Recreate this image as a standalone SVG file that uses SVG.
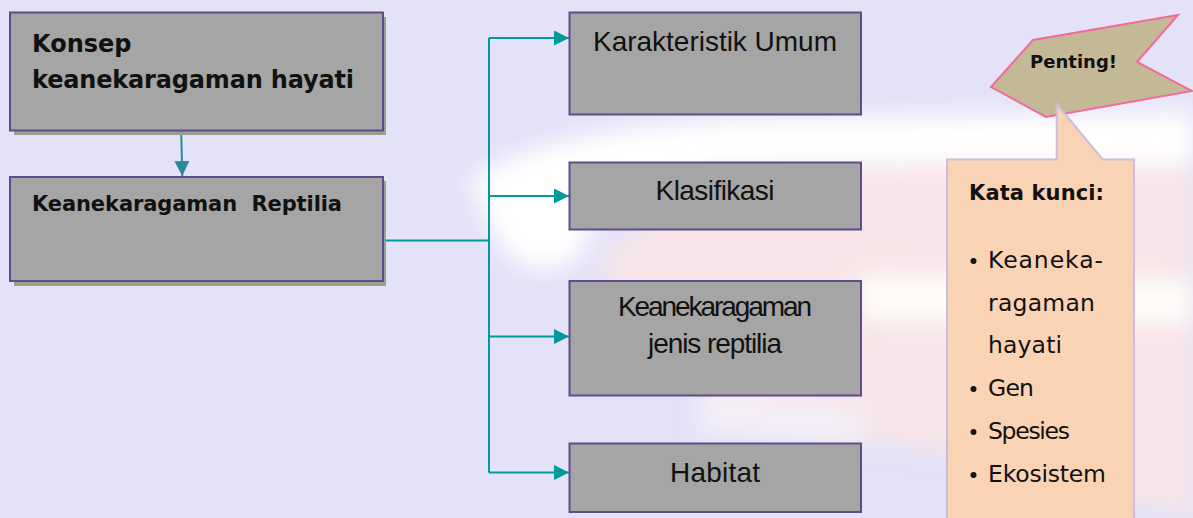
<svg xmlns="http://www.w3.org/2000/svg" width="1193" height="518" viewBox="0 0 1193 518">
  <defs>
    <filter id="soft" x="-20%" y="-20%" width="140%" height="140%">
      <feGaussianBlur stdDeviation="11"/>
    </filter>
    <marker id="tealHead" viewBox="0 0 15 15" refX="15" refY="7.5" markerWidth="15" markerHeight="15" markerUnits="userSpaceOnUse" orient="auto">
      <path d="M0,0 L15,7.5 L0,15 Z" fill="#009a9a"/>
    </marker>
    <marker id="blueHead" viewBox="0 0 15 15" refX="15" refY="7.5" markerWidth="15" markerHeight="15" markerUnits="userSpaceOnUse" orient="auto">
      <path d="M0,0 L15,7.5 L0,15 Z" fill="#2e879a"/>
    </marker>
    <style>
      .box { fill: #a5a5a5; stroke: #5f4b8b; stroke-width: 2; }
      .shadow { fill: #98a08f; }
      .bold { font-family: "DejaVu Sans", "Liberation Sans", sans-serif; font-weight: bold; fill: #111; }
      .plain { font-family: "Liberation Sans", Arial, sans-serif; fill: #111; text-anchor: middle; font-size: 28px; }
      .hand { font-family: "DejaVu Sans", "Liberation Sans", sans-serif; fill: #111; font-size: 23.5px; }
      .link { fill: none; stroke: #009a9a; stroke-width: 2; }
    </style>
  </defs>

  <!-- backdrop: lavender page with a soft light swoosh -->
  <rect width="1193" height="518" fill="#e4e2f7"/>
  <g filter="url(#soft)">
    <path d="M1193,160 Q900,150 760,185 Q640,215 600,260 Q640,330 720,400 Q800,430 940,450 Q1080,480 1193,518 Z" fill="#f7e4e8"/>
    <path d="M470,180 Q560,120 800,118 L1193,112 L1193,165 Q900,160 720,170 Q610,185 580,240 Q540,270 500,245 Z" fill="#ffffff"/>
    <ellipse cx="545" cy="235" rx="42" ry="34" fill="#ffffff"/>
    <path d="M860,275 L1193,280 L1193,325 L860,320 Z" fill="#fefcf9"/>
    <path d="M700,395 Q780,400 860,410 L860,445 Q780,440 700,430 Z" fill="#f4f0f8"/>
  </g>

  <!-- connectors -->
  <g id="connectors">
    <path d="M180.7,113 L182.3,176" fill="none" stroke="#2e879a" stroke-width="2" marker-end="url(#blueHead)"/>
    <path class="link" d="M383,240.5 H489"/>
    <path class="link" d="M489,38 V472.5"/>
    <path class="link" d="M489,38 H569" marker-end="url(#tealHead)"/>
    <path class="link" d="M489,196 H569" marker-end="url(#tealHead)"/>
    <path class="link" d="M489,336.5 H569" marker-end="url(#tealHead)"/>
    <path class="link" d="M489,472.5 H569" marker-end="url(#tealHead)"/>
  </g>

  <g id="node-konsep">
    <rect class="shadow" x="14" y="17" width="372" height="118"/>
    <rect class="box" x="10" y="12.5" width="373" height="118"/>
    <text class="bold" x="32" y="52" font-size="24">Konsep</text>
    <text class="bold" x="32" y="88" font-size="24" textLength="322">keanekaragaman hayati</text>
  </g>

  <g id="node-reptilia">
    <rect class="shadow" x="14" y="181" width="372" height="105"/>
    <rect class="box" x="10" y="177" width="373" height="104"/>
    <text class="bold" x="32" y="211" font-size="21" textLength="310" xml:space="preserve">Keanekaragaman  Reptilia</text>
  </g>

  <g id="node-karakteristik">
    <rect class="box" x="569.5" y="12.5" width="291.5" height="102"/>
    <text class="plain" x="715" y="51" textLength="244">Karakteristik Umum</text>
  </g>

  <g id="node-klasifikasi">
    <rect class="box" x="569.5" y="162.5" width="291.5" height="67"/>
    <text class="plain" x="715" y="200" font-size="27" textLength="119">Klasifikasi</text>
  </g>

  <g id="node-jenis">
    <rect class="box" x="569.5" y="281" width="291.5" height="114.5"/>
    <text class="plain" x="715" y="315.5" font-size="24.5" textLength="194">Keanekaragaman</text>
    <text class="plain" x="715" y="353" font-size="25" textLength="134">jenis reptilia</text>
  </g>

  <g id="node-habitat">
    <rect class="box" x="569.5" y="443.5" width="291.5" height="68.5"/>
    <text class="plain" x="715" y="481.5" textLength="90">Habitat</text>
  </g>

  <g id="flag-penting">
    <polygon points="1033,40 1178,15 1137,62 1192,91 1046,117 991,87" fill="#c4b996" stroke="#f06b9a" stroke-width="2" stroke-linejoin="miter"/>
    <text class="bold" x="1073.5" y="68" font-size="18" text-anchor="middle" textLength="87">Penting!</text>
  </g>

  <g id="callout-kata-kunci">
    <path d="M947,159.5 H1056.7 V104 L1102.7,159.5 H1134 V530 H947 Z" fill="#fad3b4" stroke="#c9bde0" stroke-width="2"/>
    <text class="bold" x="969" y="200" font-size="21" textLength="135">Kata kunci:</text>
    <g fill="#111">
      <circle cx="973.5" cy="261" r="3"/>
      <circle cx="973.5" cy="389" r="3"/>
      <circle cx="973.5" cy="432" r="3"/>
      <circle cx="973.5" cy="475" r="3"/>
    </g>
    <text class="hand" x="988" y="268" textLength="115">Keaneka-</text>
    <text class="hand" x="988" y="311" textLength="107">ragaman</text>
    <text class="hand" x="988" y="353" textLength="74">hayati</text>
    <text class="hand" x="988" y="396" textLength="46">Gen</text>
    <text class="hand" x="988" y="439" textLength="82">Spesies</text>
    <text class="hand" x="988" y="482" textLength="118">Ekosistem</text>
  </g>
</svg>
